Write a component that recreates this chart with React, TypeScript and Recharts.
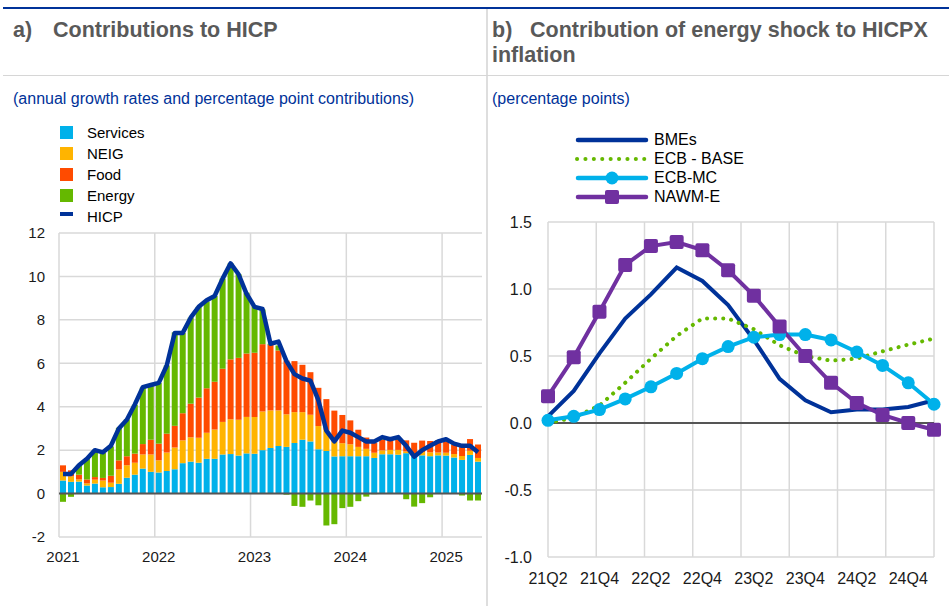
import React from "react";
import {
  Bar,
  CartesianGrid,
  ComposedChart,
  Line,
  LineChart,
  ReferenceLine,
  XAxis,
  YAxis,
} from "recharts";

// panel a) monthly contributions, Jan 2021 - May 2025
const months = [
  "2021-01", "2021-02", "2021-03", "2021-04", "2021-05", "2021-06", "2021-07", "2021-08", "2021-09", "2021-10", "2021-11", "2021-12",
  "2022-01", "2022-02", "2022-03", "2022-04", "2022-05", "2022-06", "2022-07", "2022-08", "2022-09", "2022-10", "2022-11", "2022-12",
  "2023-01", "2023-02", "2023-03", "2023-04", "2023-05", "2023-06", "2023-07", "2023-08", "2023-09", "2023-10", "2023-11", "2023-12",
  "2024-01", "2024-02", "2024-03", "2024-04", "2024-05", "2024-06", "2024-07", "2024-08", "2024-09", "2024-10", "2024-11", "2024-12",
  "2025-01", "2025-02", "2025-03", "2025-04", "2025-05",
]
const yearTicks = ["2021-01", "2022-01", "2023-01", "2024-01", "2025-01"]

const services = [
  0.6, 0.54, 0.55, 0.37, 0.46, 0.29, 0.3, 0.45, 0.73, 0.87, 1.15, 1.0,
  0.97, 1.04, 1.12, 1.4, 1.47, 1.42, 1.6, 1.6, 1.8, 1.82, 1.75, 1.85,
  1.83, 2.0, 2.1, 2.19, 2.15, 2.33, 2.48, 2.4, 2.04, 1.96, 1.71, 1.72,
  1.72, 1.72, 1.72, 1.64, 1.81, 1.81, 1.79, 1.86, 1.7, 1.76, 1.72, 1.76,
  1.75, 1.66, 1.55, 1.78, 1.47,
]
const neig = [
  0.4, 0.25, 0.1, 0.1, 0.18, 0.31, 0.2, 0.66, 0.57, 0.55, 0.65, 0.8,
  0.56, 0.85, 1.0, 1.05, 1.12, 1.15, 1.2, 1.35, 1.5, 1.6, 1.65, 1.68,
  1.7, 1.78, 1.73, 1.64, 1.5, 1.42, 1.27, 1.23, 1.07, 0.97, 0.68, 0.6,
  0.55, 0.43, 0.34, 0.24, 0.18, 0.2, 0.22, 0.08, 0.12, 0.15, 0.18, 0.13,
  0.13, 0.16, 0.18, 0.19, 0.17,
]
const food = [
  0.3, 0.28, 0.22, 0.18, 0.12, 0.12, 0.32, 0.42, 0.42, 0.42, 0.48, 0.68,
  0.77, 0.87, 1.0, 1.25, 1.55, 1.85, 2.05, 2.2, 2.45, 2.76, 2.85, 2.92,
  2.95, 3.1, 3.02, 2.76, 2.48, 2.35, 2.18, 1.96, 1.76, 1.42, 1.43, 1.3,
  1.1, 0.79, 0.52, 0.45, 0.49, 0.47, 0.46, 0.51, 0.52, 0.53, 0.52, 0.55,
  0.52, 0.42, 0.49, 0.54, 0.62,
]
const energy = [
  -0.38, -0.15, 0.45, 0.95, 1.25, 1.15, 1.35, 1.5, 1.7, 2.25, 2.6, 2.5,
  2.8, 3.14, 4.3, 3.7, 3.96, 4.18, 4.0, 3.95, 4.15, 4.42, 3.85, 2.8,
  2.15, 1.6, 0.05, 0.23, -0.05, -0.57, -0.61, -0.32, -0.54, -1.47, -1.41, -0.67,
  -0.61, -0.35, -0.14, -0.03, 0.05, 0.02, 0.08, -0.26, -0.6, -0.44, -0.17, 0.02,
  0.1, 0.03, -0.09, -0.32, -0.32,
]
const hicp = [
  0.9, 0.9, 1.3, 1.6, 2.0, 1.9, 2.2, 3.0, 3.4, 4.1, 4.9, 5.0,
  5.1, 5.9, 7.4, 7.4, 8.1, 8.6, 8.9, 9.1, 9.9, 10.6, 10.1, 9.2,
  8.6, 8.5, 6.9, 7.0, 6.1, 5.5, 5.3, 5.2, 4.3, 2.9, 2.4, 2.9,
  2.8, 2.6, 2.4, 2.4, 2.6, 2.5, 2.6, 2.2, 1.7, 2.0, 2.2, 2.4,
  2.5, 2.3, 2.2, 2.2, 1.9,
]

// panel b) quarterly contributions of the energy shock
const quarters = [
  "21Q2", "21Q3", "21Q4", "22Q1", "22Q2", "22Q3", "22Q4", "23Q1",
  "23Q2", "23Q3", "23Q4", "24Q1", "24Q2", "24Q3", "24Q4", "25Q1",
]
const quarterTicks = ["21Q2", "21Q4", "22Q2", "22Q4", "23Q2", "23Q4", "24Q2", "24Q4"]
const bmes = [0.05, 0.24, 0.52, 0.78, 0.96, 1.16, 1.06, 0.88, 0.62, 0.33, 0.17, 0.08, 0.1, 0.1, 0.12, 0.17]
const ecbBase = [0.0, 0.04, 0.13, 0.3, 0.48, 0.65, 0.78, 0.78, 0.7, 0.58, 0.5, 0.465, 0.48, 0.535, 0.585, 0.63]
const ecbMc = [0.02, 0.05, 0.1, 0.18, 0.27, 0.37, 0.48, 0.57, 0.64, 0.66, 0.66, 0.62, 0.53, 0.43, 0.3, 0.14]
const nawmE = [0.2, 0.49, 0.83, 1.18, 1.32, 1.35, 1.29, 1.14, 0.95, 0.72, 0.5, 0.3, 0.15, 0.06, 0.0, -0.05]

const BLUE = "#003299"
const LIGHT_BLUE = "#00b1ea"
const YELLOW = "#ffb400"
const RED = "#ff4b00"
const GREEN = "#65b800"
const PURPLE = "#7030a0"
const GRID = "#d9d9d9"
const FONT = "'Liberation Sans', Arial, sans-serif"

const barSeries = [
  { key: "services", name: "Services", color: LIGHT_BLUE },
  { key: "neig", name: "NEIG", color: YELLOW },
  { key: "food", name: "Food", color: RED },
  { key: "energy", name: "Energy", color: GREEN },
]

const hicpData = months.map((m, i) => ({
  m,
  services: services[i],
  neig: neig[i],
  food: food[i],
  energy: energy[i],
  hicp: hicp[i],
}))

const shockData = quarters.map((q, i) => ({
  q,
  bmes: bmes[i],
  ecbBase: ecbBase[i],
  ecbMc: ecbMc[i],
  nawmE: nawmE[i],
}))

const SquareDot = (props: any) => {
  const { cx, cy } = props
  if (cx == null || cy == null) return null
  return <rect x={cx - 7} y={cy - 7} width={14} height={14} rx={2} fill={PURPLE} />
}

function LeftLegend() {
  return (
    <div style={{ position: "absolute", left: 60, top: 122, fontSize: 15, color: "#000" }}>
      {barSeries.map((s) => (
        <div key={s.key} style={{ display: "flex", alignItems: "center", height: 21 }}>
          <span style={{ width: 13, height: 13, background: s.color, display: "inline-block" }} />
          <span style={{ marginLeft: 14 }}>{s.name}</span>
        </div>
      ))}
      <div style={{ display: "flex", alignItems: "center", height: 21 }}>
        <span style={{ width: 13, height: 4, background: BLUE, display: "inline-block", marginTop: -6 }} />
        <span style={{ marginLeft: 14 }}>HICP</span>
      </div>
    </div>
  )
}

const shockLegend = [
  { name: "BMEs", color: BLUE, kind: "line" },
  { name: "ECB - BASE", color: GREEN, kind: "dots" },
  { name: "ECB-MC", color: LIGHT_BLUE, kind: "circle" },
  { name: "NAWM-E", color: PURPLE, kind: "square" },
]

function RightLegend() {
  return (
    <div style={{ position: "absolute", left: 574, top: 130, fontSize: 16, color: "#000" }}>
      {shockLegend.map((s) => (
        <div key={s.name} style={{ display: "flex", alignItems: "center", height: 19.2 }}>
          <svg width={76} height={18}>
            {s.kind === "dots" ? (
              <line x1={3} y1={9} x2={73} y2={9} stroke={s.color} strokeWidth={4} strokeLinecap="round" strokeDasharray="0.1 8.3" />
            ) : (
              <line x1={4} y1={9} x2={72} y2={9} stroke={s.color} strokeWidth={4.5} strokeLinecap="round" />
            )}
            {s.kind === "circle" && <circle cx={38} cy={9} r={6.5} fill={s.color} />}
            {s.kind === "square" && <rect x={31} y={2} width={14} height={14} rx={2} fill={s.color} />}
          </svg>
          <span style={{ marginLeft: 4 }}>{s.name}</span>
        </div>
      ))}
    </div>
  )
}

export default function App() {
  const tickStyle = { fill: "#1a1a1a", fontSize: 15, fontFamily: FONT }
  const tickStyleB = { fill: "#1a1a1a", fontSize: 16, fontFamily: FONT }
  return (
    <div
      style={{
        position: "absolute",
        left: 0,
        top: 0,
        width: 949,
        height: 606,
        background: "#fff",
        fontFamily: FONT,
        overflow: "hidden",
      }}
    >
      {/* frame */}
      <div style={{ position: "absolute", left: 3, top: 7, width: 946, height: 2, background: BLUE }} />
      <div style={{ position: "absolute", left: 486, top: 9, width: 2, height: 597, background: "#dedede" }} />
      <div style={{ position: "absolute", left: 3, top: 75, width: 946, height: 1, background: "#d6d6d6" }} />

      {/* titles */}
      <div style={{ position: "absolute", left: 13, top: 18, fontSize: 21.5, fontWeight: 700, color: "#595959", whiteSpace: "nowrap" }}>
        <span style={{ display: "inline-block", width: 40 }}>a)</span>Contributions to HICP
      </div>
      <div style={{ position: "absolute", left: 492, top: 18, fontSize: 21.5, fontWeight: 700, color: "#595959", lineHeight: "25px", whiteSpace: "nowrap" }}>
        <span style={{ display: "inline-block", width: 38 }}>b)</span>Contribution of energy shock to HICPX
        <br />
        inflation
      </div>
      <div style={{ position: "absolute", left: 13, top: 90, fontSize: 16, color: BLUE, whiteSpace: "nowrap" }}>
        (annual growth rates and percentage point contributions)
      </div>
      <div style={{ position: "absolute", left: 492, top: 90, fontSize: 16, color: BLUE, whiteSpace: "nowrap" }}>
        (percentage points)
      </div>

      <LeftLegend />
      <RightLegend />

      {/* a) */}
      <div style={{ position: "absolute", left: 0, top: 200 }}>
        <ComposedChart
          width={485}
          height={380}
          data={hicpData}
          stackOffset="sign"
          margin={{ top: 33, right: 3, bottom: 0, left: 0 }}
        >
          <CartesianGrid
            stroke={GRID}
            strokeWidth={1.5}
            verticalCoordinatesGenerator={({ offset }: any) =>
              yearTicks.map((t) => offset.left + (offset.width * months.indexOf(t)) / months.length)
            }
          />
          <XAxis
            dataKey="m"
            ticks={yearTicks}
            interval={0}
            tickFormatter={(m: string) => m.slice(0, 4)}
            axisLine={false}
            tickLine={false}
            tickMargin={8}
            height={43}
            tick={tickStyle}
          />
          <YAxis
            domain={[-2, 12]}
            ticks={[-2, 0, 2, 4, 6, 8, 10, 12]}
            axisLine={false}
            tickLine={false}
            tickMargin={8}
            width={59}
            tick={tickStyle}
          />
          {barSeries.map((s) => (
            <Bar
              key={s.key}
              dataKey={s.key}
              name={s.name}
              stackId="c"
              fill={s.color}
              barSize={6}
              isAnimationActive={false}
            />
          ))}
          <ReferenceLine y={0} stroke="#555" strokeWidth={2} />
          <Line
            dataKey="hicp"
            name="HICP"
            stroke={BLUE}
            strokeWidth={4.5}
            strokeLinejoin="round"
            dot={false}
            activeDot={false}
            isAnimationActive={false}
          />
        </ComposedChart>
      </div>

      {/* b) */}
      <div style={{ position: "absolute", left: 487, top: 200 }}>
        <LineChart
          width={462}
          height={400}
          data={shockData}
          margin={{ top: 22, right: 15, bottom: 0, left: 0 }}
        >
          <CartesianGrid
            stroke={GRID}
            strokeWidth={1.5}
            verticalCoordinatesGenerator={({ offset }: any) =>
              [0, 2, 4, 6, 8, 10, 12, 14, 16].map((k) => offset.left + (offset.width * k) / quarters.length)
            }
          />
          <XAxis
            dataKey="q"
            ticks={quarterTicks}
            interval={0}
            axisLine={false}
            tickLine={false}
            tickMargin={10}
            height={43}
            tick={tickStyleB}
          />
          <YAxis
            domain={[-1, 1.5]}
            ticks={[-1, -0.5, 0, 0.5, 1, 1.5]}
            tickFormatter={(v: number) => v.toFixed(1)}
            axisLine={false}
            tickLine={false}
            tickMargin={10}
            width={61}
            tick={tickStyleB}
          />
          <ReferenceLine y={0} stroke="#555" strokeWidth={2} />
          <Line dataKey="bmes" name="BMEs" stroke={BLUE} strokeWidth={4} dot={false} activeDot={false} isAnimationActive={false} />
          <Line
            dataKey="ecbBase"
            name="ECB - BASE"
            stroke={GREEN}
            strokeWidth={4}
            strokeLinecap="round"
            strokeDasharray="0.1 8"
            dot={false}
            activeDot={false}
            isAnimationActive={false}
          />
          <Line
            dataKey="ecbMc"
            name="ECB-MC"
            stroke={LIGHT_BLUE}
            strokeWidth={4}
            dot={{ r: 6.5, fill: LIGHT_BLUE, stroke: LIGHT_BLUE, strokeWidth: 0 }}
            activeDot={false}
            isAnimationActive={false}
          />
          <Line
            dataKey="nawmE"
            name="NAWM-E"
            stroke={PURPLE}
            strokeWidth={4}
            dot={<SquareDot />}
            activeDot={false}
            isAnimationActive={false}
          />
        </LineChart>
      </div>
    </div>
  )
}
